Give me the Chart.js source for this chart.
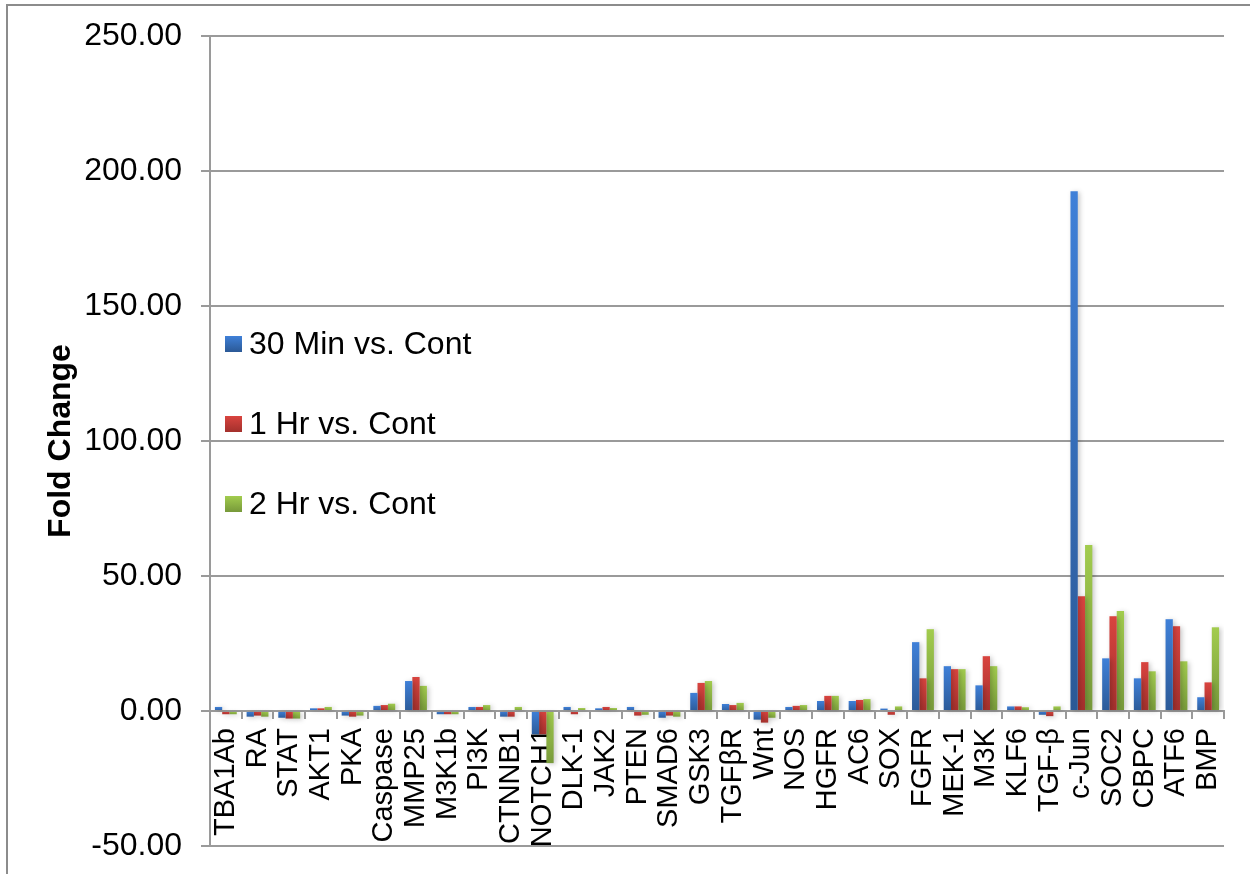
<!DOCTYPE html>
<html>
<head>
<meta charset="utf-8">
<script src="https://cdn.jsdelivr.net/npm/chart.js@4.4.1/dist/chart.umd.min.js"></script>
<style>
    html, body { margin: 0; padding: 0; background: #fff; overflow: hidden; }
    #wrap { position: relative; width: 1250px; height: 874px; }
    #frame { position: absolute; left: 6px; top: 4px; width: 1300px; height: 900px; border: 2px solid #8c8c8c; }
    #chart { position: absolute; left: 0; top: 0; }
</style>
</head>
<body>
<div id="wrap">
    <div id="frame"></div>
    <canvas id="chart" width="1250" height="874"></canvas>
</div>
<script>
// Data
const categories = ['TBA1Ab', 'RA', 'STAT', 'AKT1', 'PKA', 'Caspase', 'MMP25', 'M3K1b', 'PI3K', 'CTNNB1',
    'NOTCH1', 'DLK-1', 'JAK2', 'PTEN', 'SMAD6', 'GSK3', 'TGFβR', 'Wnt', 'NOS', 'HGFR', 'AC6', 'SOX',
    'FGFR', 'MEK-1', 'M3K', 'KLF6', 'TGF-β', 'c-Jun', 'SOC2', 'CBPC', 'ATF6', 'BMP'];

const seriesNames = ['30 Min vs. Cont', '1 Hr vs. Cont', '2 Hr vs. Cont'];

const min30 = [1.5, -2.1, -2.5, 1.0, -1.7, 1.9, 11.1, -1.2, 1.5, -2.1, -8.6, 1.5, 1.0, 1.5, -2.5, 6.7,
    2.6, -3.2, 1.5, 3.7, 3.7, 0.9, 25.5, 16.6, 9.5, 1.7, -1.4, 192.5, 19.5, 12.1, 34.0, 5.1];
const hr1 = [-1.2, -1.7, -2.8, 1.0, -2.1, 2.2, 12.6, -1.2, 1.5, -2.1, -8.6, -1.2, 1.5, -1.7, -1.7, 10.4,
    2.2, -4.3, 1.9, 5.6, 4.1, -1.4, 12.1, 15.5, 20.3, 1.7, -1.9, 42.5, 35.1, 18.1, 31.4, 10.6];
const hr2 = [-1.2, -2.1, -2.8, 1.5, -1.7, 2.7, 9.3, -1.2, 2.2, 1.5, -19.3, 1.1, 1.1, -1.4, -2.1, 11.1,
    3.0, -2.5, 2.2, 5.6, 4.4, 1.7, 30.3, 15.5, 16.6, 1.4, 1.7, 61.5, 37.0, 14.7, 18.4, 31.0];

const yMin = -50;
const yMax = 250;
const yStep = 50;

// Light (top) and dark (bottom) shade of each series
const lightColors = ['#3f80d8', '#d9443f', '#a2cc4e'];
const darkColors = ['#2b5996', '#a3302c', '#77993a'];

const FONT = '"Liberation Sans", Arial, sans-serif';
const GRAY = '#9a9a9a';

// Vertical gradient per bar, from its top to its base on the y scale
function barFill(i) {
    return (context) => {
        const chart = context.chart;
        if (!chart.chartArea || context.type !== 'data' || !context.parsed) return lightColors[i];
        const y = chart.scales.y;
        const p0 = y.getPixelForValue(0);
        const p1 = y.getPixelForValue(context.parsed.y);
        const g = chart.ctx.createLinearGradient(0, Math.min(p0, p1), 0, Math.max(p0, p1) + 1);
        g.addColorStop(0, lightColors[i]);
        g.addColorStop(1, darkColors[i]);
        return g;
    };
}

// Soft shadow behind the bars
const barShadow = {
    id: 'barShadow',
    beforeDatasetsDraw(chart) {
        const ctx = chart.ctx;
        ctx.save();
        ctx.shadowColor = 'rgba(0, 0, 0, 0.22)';
        ctx.shadowBlur = 5;
        ctx.shadowOffsetX = 2;
        ctx.shadowOffsetY = 1;
    },
    afterDatasetsDraw(chart) {
        chart.ctx.restore();
    }
};

// Legend sitting inside the plot area, left side
const insideLegend = {
    id: 'insideLegend',
    afterDraw(chart, args, opts) {
        const { ctx, chartArea } = chart;
        ctx.save();
        ctx.font = '32px ' + FONT;
        ctx.textBaseline = 'middle';
        ctx.textAlign = 'left';
        chart.data.datasets.forEach((ds, i) => {
            const cy = chartArea.top + opts.top + i * opts.gap;
            const x = chartArea.left + opts.left;
            const g = ctx.createLinearGradient(0, cy - 8, 0, cy + 8);
            g.addColorStop(0, lightColors[i]);
            g.addColorStop(1, darkColors[i]);
            ctx.fillStyle = g;
            ctx.fillRect(x, cy - 8, 17, 16);
            ctx.fillStyle = '#000';
            ctx.fillText(ds.label, x + 24, cy + 1);
        });
        ctx.restore();
    }
};

const datasets = [min30, hr1, hr2].map((values, i) => ({
    label: seriesNames[i],
    data: values,
    backgroundColor: barFill(i),
    borderWidth: 0,
    categoryPercentage: 0.69,
    barPercentage: 1.0
}));

new Chart(document.getElementById('chart').getContext('2d'), {
    type: 'bar',
    data: { labels: categories, datasets: datasets },
    options: {
        responsive: false,
        animation: false,
        events: [],
        layout: { padding: { left: 24, top: 36, right: 26, bottom: 28 } },
        plugins: {
            legend: { display: false },
            tooltip: { enabled: false },
            insideLegend: { left: 15, top: 308, gap: 80 }
        },
        scales: {
            x: {
                position: { y: 0 },
                z: 1,
                afterFit: (scale) => {
                    scale.height = 0;
                    scale.paddingRight = 0;
                },
                grid: {
                    display: true,
                    drawOnChartArea: false,
                    drawTicks: true,
                    tickLength: 7,
                    color: GRAY,
                    lineWidth: 2,
                    offset: true
                },
                border: { display: true, color: GRAY, width: 2 },
                ticks: {
                    autoSkip: false,
                    minRotation: 90,
                    maxRotation: 90,
                    padding: 10,
                    color: '#000',
                    font: { family: FONT, size: 29 }
                }
            },
            y: {
                min: yMin,
                max: yMax,
                afterFit: (scale) => {
                    scale.width = 186;
                    scale.paddingTop = 18;
                    scale.paddingBottom = 18;
                },
                grid: {
                    color: GRAY,
                    lineWidth: 2,
                    tickLength: 9
                },
                border: { display: true, color: GRAY, width: 2 },
                ticks: {
                    stepSize: yStep,
                    padding: 19,
                    color: '#000',
                    font: { family: FONT, size: 32 },
                    callback: (v) => Number(v).toFixed(2)
                },
                title: {
                    display: true,
                    text: 'Fold Change',
                    color: '#000',
                    padding: { top: 18, bottom: 0 },
                    font: { family: FONT, size: 32, weight: 'bold' }
                }
            }
        }
    },
    plugins: [barShadow, insideLegend]
});
</script>
</body>
</html>
